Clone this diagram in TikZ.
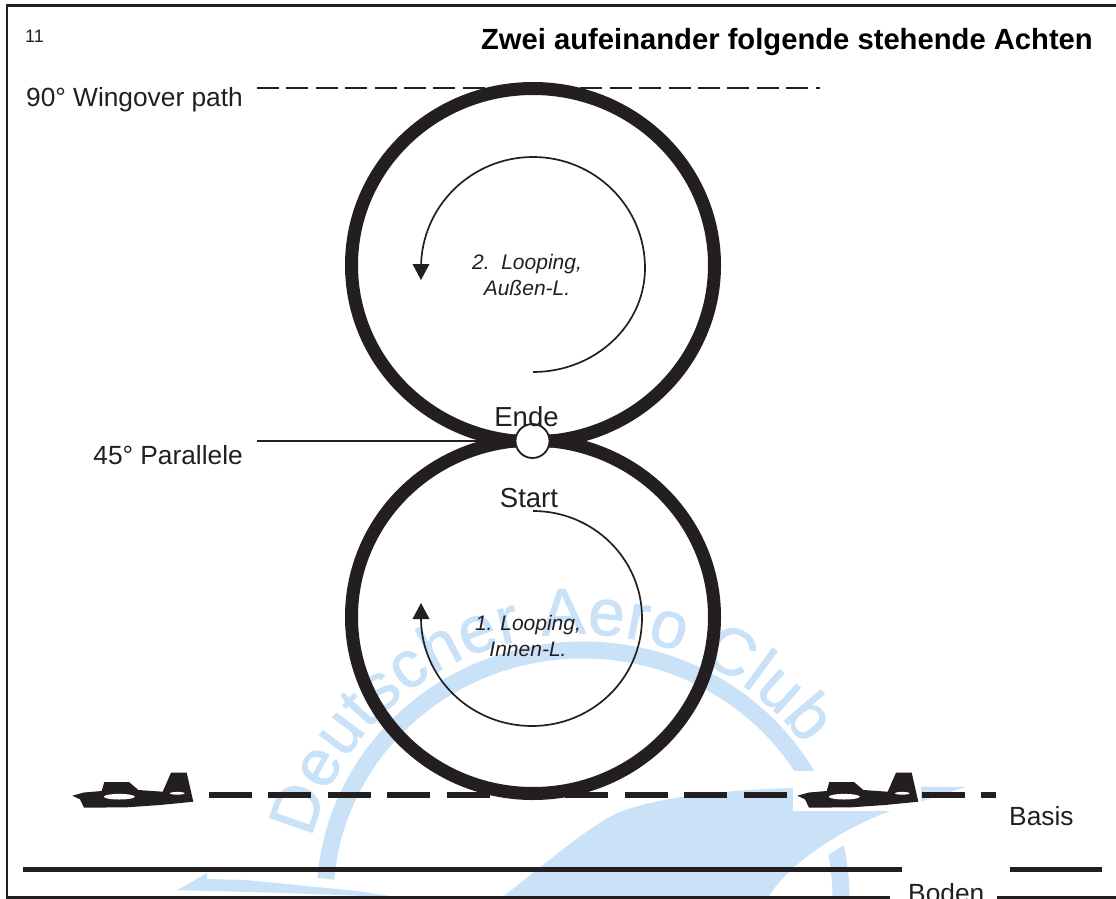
\documentclass[tikz,border=0pt]{standalone}
\usepackage{fontspec}
\setmainfont{Liberation Sans}
\usetikzlibrary{decorations.text}
\definecolor{ink}{HTML}{231F20}
\definecolor{wm}{HTML}{C9E2F8}
\tikzset{
  x=1pt,y=-1pt,
  ring/.style={draw=ink,line width=13pt},
  thinarc/.style={draw=ink,line width=1.7pt},
  label/.style={inner sep=0pt,text=ink,font=\fontsize{26.3}{30}\selectfont},
  biglabel/.style={inner sep=0pt,text=ink,font=\fontsize{27.5}{30}\selectfont},
  looplabel/.style={inner sep=0pt,text=ink,align=center,font=\fontsize{21}{26}\selectfont\itshape},
  baseline dash/.style={draw=ink,line width=5.5pt,dash pattern=on 43pt off 16.4pt},
  path dash/.style={draw=ink,line width=2.8pt,dash pattern=on 22pt off 7.4pt},
}
\newcommand{\planeshape}[1]{%
  \begin{scope}[shift={(#1,0)}]
    \fill[ink] (72.3,795.7) -- (84,792.5) -- (101.7,791) -- (104.3,782) -- (129,782) -- (138.3,790) -- (162.7,791.7) -- (171,772.7) -- (186.7,772.7) -- (193.3,801.7) -- (160,805) -- (126.7,807.3) -- (84,807.7) -- (80,799.3) -- cycle;
    \fill[white] (119.3,796.7) ellipse[x radius=15.5pt,y radius=2.8pt];
    \fill[white] (177.3,793.3) ellipse[x radius=7.3pt,y radius=1.4pt];
  \end{scope}}
\begin{document}
\begin{tikzpicture}
\useasboundingbox (0,0) rectangle (1116,899);
\clip (0,0) rectangle (1116,899);
\fill[white] (0,0) rectangle (1116,899);
% watermark
\draw[wm,line width=17pt] (583,900) ++(-258,-1) arc[start angle=180,end angle=0,x radius=258pt,y radius=249pt];
\path[decorate,decoration={text along path,text color=wm,text align={fit to path},text={|\fontsize{66}{70}\selectfont\addfontfeature{FakeBold=1.2}|Deutscher Aero Club}}]
  (311.6,838) arc[start angle=166.5,end angle=35.5,x radius=276pt,y radius=266pt];
% right wing and left wing, with their white halo
\path[draw=white,line width=22pt,fill=white] (965,787) .. controls (830,786) and (690,785) .. (620,812) .. controls (590,825) and (550,860) .. (500,899) -- (767,899) .. controls (790,860) and (850,825) .. (893,810) .. controls (920,802) and (945,794) .. (965,787) -- cycle;
\fill[wm] (965,787) .. controls (830,786) and (690,785) .. (620,812) .. controls (590,825) and (550,860) .. (500,899) -- (767,899) .. controls (790,860) and (850,825) .. (893,810) .. controls (920,802) and (945,794) .. (965,787) -- cycle;
\path[draw=white,line width=18pt,fill=white] (246,880) -- (357,891) -- (410,899) -- (446,899) -- (285,893) -- cycle;
\fill[wm] (177.5,890) -- (207,873) -- (207,879) -- (246,880) -- (357,891) -- (410,899) -- (446,899) -- (285,893) -- cycle;
% frame
\draw[ink,line width=2.2pt] (890,897.5) -- (7,897.5) -- (7,5.5) -- (1116,5.5);
\draw[ink,line width=2.2pt] (997,897.5) -- (1116,897.5);
% eight
\draw[ring] (533,265.2) ellipse[x radius=181.5pt,y radius=176.7pt];
\draw[ring] (533,616.8) ellipse[x radius=181.5pt,y radius=176.7pt];
\node[draw=ink,fill=white,line width=1.8pt,circle,minimum size=34pt,inner sep=0pt] (junction) at (532.5,441) {};
% upper loop
\draw[thinarc] (533,372) arc[start angle=-90,end angle=0,x radius=112pt,y radius=104pt]
  arc[start angle=0,end angle=90,x radius=112pt,y radius=111pt]
  arc[start angle=90,end angle=180,x radius=112pt,y radius=111pt];
\fill[ink] (421,280) -- (412.5,264) -- (429.5,264) -- cycle;
% lower loop
\draw[thinarc] (533,511) arc[start angle=90,end angle=0,x radius=109pt,y radius=107pt]
  arc[start angle=0,end angle=-90,x radius=110pt,y radius=108pt]
  arc[start angle=-90,end angle=-180,x radius=111pt,y radius=108pt];
\fill[ink] (421,603) -- (412.5,619) -- (429.5,619) -- cycle;
% guide lines
\coordinate (wing start) at (257,88);
\coordinate (wing end) at (820,88);
\draw[path dash] (wing start) -- (wing end);
\coordinate (par start) at (257,441);
\draw[ink,line width=2pt] (par start) -- (junction);
\coordinate (base start) at (209,795);
\coordinate (base end) at (996,795);
\draw[baseline dash] (base start) -- (base end);
\fill[white] (793,771) rectangle (921,811);
\draw[ink,line width=5.5pt] (23,869.5) -- (902,869.5);
\draw[ink,line width=5.5pt] (1010,869.5) -- (1102,869.5);
\planeshape{0}
\planeshape{725}
% texts
\node[inner sep=0pt,text=ink,anchor=base west,font=\fontsize{18}{20}\selectfont] (num) at (25,43) {11};
\node[inner sep=0pt,text=black,anchor=base east,font=\fontsize{29.2}{32}\selectfont\bfseries] (title) at (1093,49) {Zwei aufeinander folgende stehende Achten};
\node[label,anchor=base east] (l90) at (243,106) {90° Wingover path};
\node[label,anchor=base east] (l45) at (243,464) {45° Parallele};
\node[biglabel,anchor=base] (ende) at (526.5,426) {Ende};
\node[biglabel,anchor=base] (start) at (529,507) {Start};
\node[label,anchor=base west] (basis) at (1009,825) {Basis};
\node[label,anchor=base west] (boden) at (908,902) {Boden};
\node[looplabel] (l2) at (527,275) {2.\ \ Looping,\\Außen-L.};
\node[looplabel] (l1) at (528,636) {1. Looping,\\Innen-L.};
\end{tikzpicture}
\end{document}
